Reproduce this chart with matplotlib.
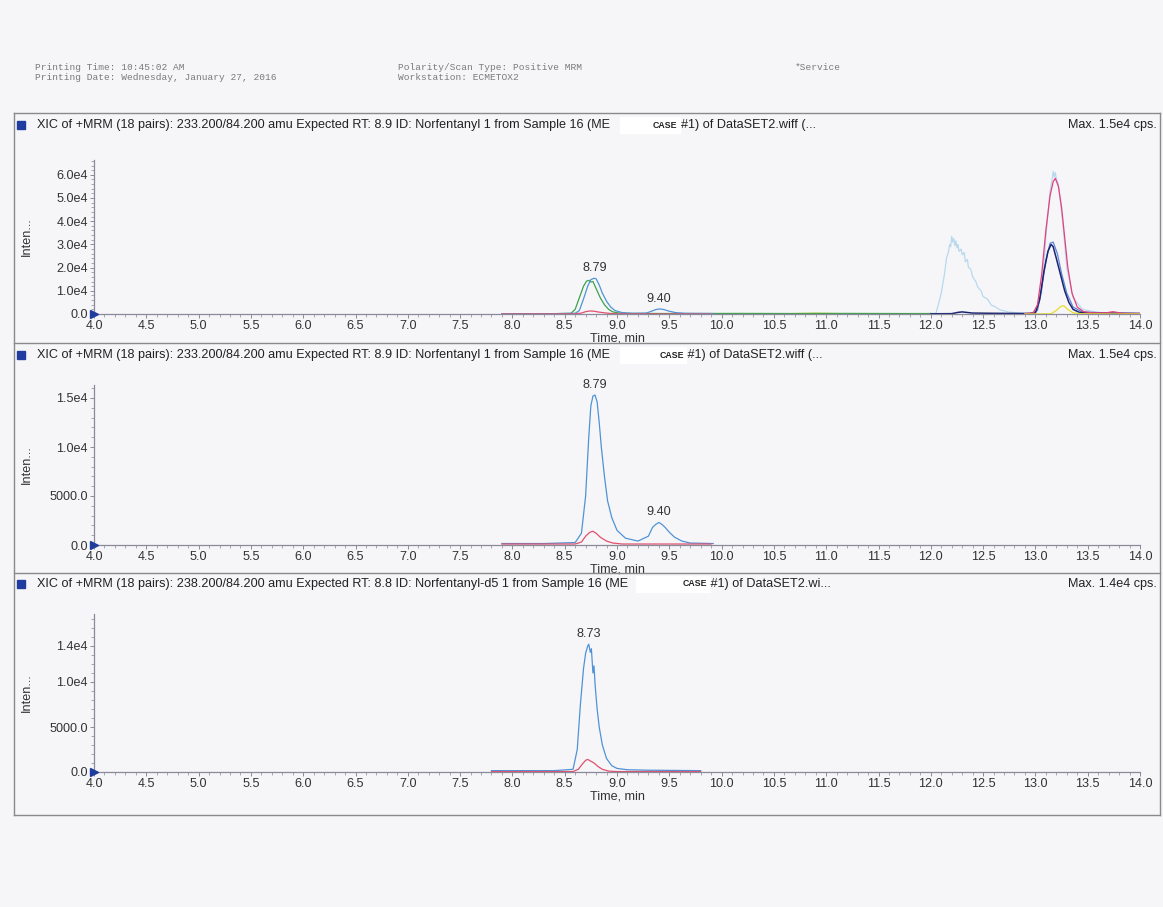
import matplotlib
matplotlib.use("Agg")
import matplotlib.pyplot as plt
from matplotlib.lines import Line2D
from matplotlib.patches import Rectangle
from matplotlib.ticker import MultipleLocator, FixedLocator

W, H = 1163, 907
BG = "#f6f6f8"

# ---------------- data ----------------
header_left = ["Printing Time: 10:45:02 AM", "Printing Date: Wednesday, January 27, 2016"]
header_mid = ["Polarity/Scan Type: Positive MRM", "Workstation: ECMETOX2"]
header_right = "*Service"

titles_a = [
    "XIC of +MRM (18 pairs): 233.200/84.200 amu Expected RT: 8.9 ID: Norfentanyl 1 from Sample 16 (ME",
    "XIC of +MRM (18 pairs): 233.200/84.200 amu Expected RT: 8.9 ID: Norfentanyl 1 from Sample 16 (ME",
    "XIC of +MRM (18 pairs): 238.200/84.200 amu Expected RT: 8.8 ID: Norfentanyl-d5 1 from Sample 16 (ME",
]
titles_b = ["#1) of DataSET2.wiff (...", " #1) of DataSET2.wiff (...", " #1) of DataSET2.wi..."]
max_labels = ["Max. 1.5e4 cps.", "Max. 1.5e4 cps.", "Max. 1.4e4 cps."]

x_ticks = [4.0, 4.5, 5.0, 5.5, 6.0, 6.5, 7.0, 7.5, 8.0, 8.5, 9.0, 9.5, 10.0, 10.5, 11.0, 11.5, 12.0, 12.5, 13.0, 13.5, 14.0]

p1_yticks = [0, 10000, 20000, 30000, 40000, 50000, 60000]
p1_ylabels = ["0.0", "1.0e4", "2.0e4", "3.0e4", "4.0e4", "5.0e4", "6.0e4"]
p2_yticks = [0, 5000, 10000, 15000]
p2_ylabels = ["0.0", "5000.0", "1.0e4", "1.5e4"]
p3_yticks = [0, 5000, 10000, 14000]
p3_ylabels = ["0.0", "5000.0", "1.0e4", "1.4e4"]

# Panel 1 traces
p1_blue_t = [7.90, 8.40, 8.60, 8.64, 8.68, 8.72, 8.75, 8.78, 8.80, 8.83, 8.86, 8.90, 8.94, 8.98, 9.05, 9.15, 9.28, 9.33, 9.37, 9.41, 9.45, 9.50, 9.56, 9.65, 9.92]
p1_blue_v = [150, 150, 300, 1500, 6500, 12000, 14800, 15400, 15200, 12500, 9000, 5500, 3000, 1500, 600, 300, 400, 1200, 1900, 2200, 1900, 1200, 600, 300, 200]
p1_green_t = [7.90, 8.40, 8.56, 8.60, 8.64, 8.68, 8.71, 8.73, 8.75, 8.77, 8.80, 8.84, 8.88, 8.92, 8.96, 9.02, 9.10, 9.60, 10.20, 10.70, 11.20, 11.70, 12.00]
p1_green_v = [150, 150, 300, 2000, 7000, 12000, 14200, 14500, 13800, 14000, 11000, 7000, 4000, 2000, 900, 400, 250, 200, 250, 200, 250, 200, 200]
p1_red_t = [7.90, 8.60, 8.66, 8.70, 8.74, 8.78, 8.83, 8.90, 8.96, 9.10, 9.90]
p1_red_v = [0, 50, 400, 1000, 1300, 1200, 800, 400, 150, 50, 0]
p1_ygreen_t = [10.60, 10.80, 10.90, 11.00, 11.20]
p1_ygreen_v = [100, 300, 400, 300, 100]
p1_pale_t = [11.90, 12.05, 12.10, 12.13, 12.15, 12.17, 12.18, 12.19, 12.20, 12.21, 12.22, 12.23, 12.24, 12.25, 12.26, 12.27, 12.29, 12.30, 12.32, 12.33, 12.35, 12.36, 12.38, 12.40, 12.43, 12.45, 12.48, 12.50, 12.54, 12.58, 12.62, 12.66, 12.75, 12.90, 13.00, 13.06, 13.10, 13.14, 13.16, 13.17, 13.18, 13.19, 13.20, 13.22, 13.26, 13.30, 13.36, 13.45, 13.60, 14.00]
p1_pale_v = [100, 300, 9000, 17000, 24000, 27000, 30000, 29000, 33500, 31000, 32500, 29500, 31500, 28500, 30000, 27000, 28000, 25500, 26500, 22500, 23500, 20000, 19500, 16000, 14000, 11500, 10000, 7500, 6500, 3800, 3000, 1800, 800, 300, 600, 9000, 33000, 53000, 58000, 61500, 59000, 61000, 58500, 56000, 40000, 20000, 7000, 2000, 600, 300]
p1_midblue_t = [12.95, 13.02, 13.06, 13.10, 13.14, 13.17, 13.21, 13.25, 13.30, 13.36, 13.45, 14.00]
p1_midblue_v = [200, 1500, 11000, 23000, 30500, 31000, 26000, 17500, 9000, 3000, 800, 200]
p1_navy_t = [12.00, 12.20, 12.26, 12.30, 12.34, 12.40, 12.60, 12.95, 13.00, 13.04, 13.08, 13.12, 13.15, 13.17, 13.20, 13.24, 13.28, 13.32, 13.36, 13.42, 13.55, 14.00]
p1_navy_v = [100, 150, 700, 900, 700, 400, 300, 200, 500, 6000, 18000, 27000, 30000, 29000, 24000, 17000, 10000, 5000, 2000, 700, 300, 200]
p1_pink_t = [12.90, 12.98, 13.02, 13.06, 13.10, 13.14, 13.17, 13.19, 13.22, 13.25, 13.28, 13.31, 13.35, 13.40, 13.46, 13.55, 13.68, 13.74, 13.78, 13.84, 14.00]
p1_pink_v = [200, 500, 4000, 17000, 36000, 51000, 57000, 58500, 55000, 46000, 33000, 20000, 9000, 3000, 1000, 500, 500, 1000, 700, 300, 200]
p1_yellow_t = [12.90, 13.15, 13.20, 13.24, 13.27, 13.31, 13.36, 13.45, 14.00]
p1_yellow_v = [0, 100, 1500, 3200, 3600, 2000, 500, 100, 0]

# Panel 2 traces
p2_blue_t = [7.90, 8.30, 8.60, 8.66, 8.70, 8.73, 8.75, 8.77, 8.79, 8.81, 8.83, 8.85, 8.88, 8.91, 8.95, 9.00, 9.08, 9.20, 9.30, 9.34, 9.37, 9.40, 9.43, 9.46, 9.50, 9.55, 9.62, 9.70, 9.92]
p2_blue_v = [150, 150, 250, 1200, 5000, 11000, 14200, 15200, 15300, 14600, 12500, 10000, 7000, 4500, 2800, 1500, 700, 400, 900, 1800, 2100, 2300, 2100, 1800, 1300, 800, 400, 200, 150]
p2_red_t = [7.90, 8.60, 8.66, 8.70, 8.74, 8.77, 8.80, 8.84, 8.90, 8.96, 9.05, 9.90]
p2_red_v = [100, 100, 300, 900, 1300, 1400, 1200, 800, 400, 200, 100, 100]

# Panel 3 traces
p3_blue_t = [7.80, 8.40, 8.58, 8.62, 8.65, 8.68, 8.70, 8.72, 8.73, 8.745, 8.755, 8.77, 8.78, 8.79, 8.81, 8.83, 8.86, 8.90, 8.95, 9.00, 9.10, 9.30, 9.80]
p3_blue_v = [150, 150, 300, 2500, 7500, 11500, 13200, 14000, 14200, 13300, 13700, 11000, 11800, 9800, 7000, 5000, 3000, 1500, 700, 400, 250, 200, 150]
p3_red_t = [7.80, 8.58, 8.63, 8.67, 8.70, 8.72, 8.75, 8.78, 8.82, 8.86, 8.92, 9.00, 9.80]
p3_red_v = [50, 50, 300, 900, 1300, 1400, 1200, 1000, 600, 300, 100, 50, 50]

# peak labels: (panel, time, intensity, text)
peak_labels = [
    (0, 8.79, 15400, "8.79"), (0, 9.40, 2200, "9.40"),
    (1, 8.79, 15300, "8.79"), (1, 9.40, 2300, "9.40"),
    (2, 8.73, 14200, "8.73"),
]

# ---------------- style ----------------
C_BLUE = "#4f93d6"
C_RED = "#e0506e"
C_GREEN = "#3ea24a"
C_PALE = "#b9d8ee"
C_MID = "#5a86d8"
C_NAVY = "#1c2470"
C_PINK = "#e3407c"
C_YEL = "#e8dc2a"
C_YGREEN = "#c9da4a"

fig = plt.figure(figsize=(W / 100, H / 100), dpi=100, facecolor=BG)

def fx(px):
    return px / W

def fy(py):
    return 1 - py / H

mono = ["Liberation Mono", "DejaVu Sans Mono"]
sans = ["Liberation Sans", "DejaVu Sans"]
FS = 9.1

# header
hkw = dict(family=mono, fontsize=6.8, color="#7a7a7a", va="center")
fig.text(fx(35), fy(67), header_left[0], **hkw)
fig.text(fx(35), fy(78), header_left[1], **hkw)
fig.text(fx(398), fy(67), header_mid[0], **hkw)
fig.text(fx(398), fy(78), header_mid[1], **hkw)
fig.text(fx(795), fy(67), header_right, **hkw)

# frame
frame_col = "#8a8a8a"
top, bot, left, right = 113, 815, 14, 1160
for (x0, y0, x1, y1) in [(left, top, right, top), (left, bot, right, bot), (left, top, left, bot), (right, top, right, bot),
                         (left, 343, right, 343), (left, 573, right, 573)]:
    fig.add_artist(Line2D([fx(x0), fx(x1)], [fy(y0), fy(y1)], color=frame_col, lw=1.0, transform=fig.transFigure))

title_y = [125, 355, 584]
box_x = [[620, 680], [620, 686], [636, 710]]
case_x = [653, 660, 683]
b_x = [681, 684, 707]
zero_px = [314, 545, 772]
top_px = [160, 385, 614]
px_per_unit = [23.2 / 10000, 98.0 / 10000, 90.0 / 10000]

yticks_all = [p1_yticks, p2_yticks, p3_yticks]
ylabels_all = [p1_ylabels, p2_ylabels, p3_ylabels]
yminor = [2000, 1000, 1000]

axes = []
for i in range(3):
    ty = title_y[i]
    fig.add_artist(Rectangle((fx(17), fy(ty + 4)), 8 / W, 8 / H, color="#1f3c9e", transform=fig.transFigure))
    fig.text(fx(37), fy(ty), titles_a[i], family=sans, fontsize=FS, color="#222222", va="center")
    bx0, bx1 = box_x[i]
    fig.add_artist(Rectangle((fx(bx0), fy(ty + 8)), (bx1 - bx0) / W, 16 / H, color="white", transform=fig.transFigure))
    fig.text(fx(case_x[i]), fy(ty), "CASE", family=sans, fontsize=6.3, weight="bold", color="#222222", va="center")
    fig.text(fx(b_x[i]), fy(ty), titles_b[i], family=sans, fontsize=FS, color="#222222", va="center")
    fig.text(fx(1157), fy(ty), max_labels[i], family=sans, fontsize=FS, color="#222222", va="center", ha="right")

    z, t = zero_px[i], top_px[i]
    ax = fig.add_axes([fx(94), fy(z), (1140 - 94) / W, (z - t) / H])
    ax.set_facecolor("none")
    ax.set_xlim(4.0, 14.0)
    ax.set_ylim(0, (z - t) / px_per_unit[i])
    for s in ["top", "right"]:
        ax.spines[s].set_visible(False)
    for s in ["left", "bottom"]:
        ax.spines[s].set_color("#8a8a9a")
        ax.spines[s].set_linewidth(0.9)
    ax.xaxis.set_major_locator(FixedLocator(x_ticks))
    ax.set_xticklabels([f"{v:.1f}" for v in x_ticks])
    ax.xaxis.set_minor_locator(MultipleLocator(0.1))
    ax.yaxis.set_major_locator(FixedLocator(yticks_all[i]))
    ax.set_yticklabels(ylabels_all[i])
    ax.yaxis.set_minor_locator(MultipleLocator(yminor[i]))
    ax.tick_params(axis="both", which="major", length=3, width=0.7, color="#8a8a9a", labelsize=FS,
                   labelcolor="#333333", pad=1.5)
    ax.tick_params(axis="both", which="minor", length=2, width=0.6, color="#9a9aaa")
    for lab in ax.get_xticklabels() + ax.get_yticklabels():
        lab.set_family(sans)
    ax.set_xlabel("Time, min", family=sans, fontsize=FS, color="#333333", labelpad=0)
    ax.set_ylabel("Inten...", family=sans, fontsize=FS, color="#333333")
    ax.yaxis.set_label_coords(-0.058, 0.5)
    ax.plot([4.0], [0], marker=">", color="#1f3c9e", markersize=6, clip_on=False, zorder=5)
    axes.append(ax)

ax1, ax2, ax3 = axes
lw = 0.9
ax1.plot(p1_pale_t, p1_pale_v, color=C_PALE, lw=lw)
ax1.plot(p1_ygreen_t, p1_ygreen_v, color=C_YGREEN, lw=lw)
ax1.plot(p1_green_t, p1_green_v, color=C_GREEN, lw=lw)
ax1.plot(p1_blue_t, p1_blue_v, color=C_BLUE, lw=lw)
ax1.plot(p1_red_t, p1_red_v, color=C_RED, lw=lw)
ax1.plot(p1_midblue_t, p1_midblue_v, color=C_MID, lw=lw)
ax1.plot(p1_navy_t, p1_navy_v, color=C_NAVY, lw=1.1)
ax1.plot(p1_pink_t, p1_pink_v, color=C_PINK, lw=lw)
ax1.plot(p1_yellow_t, p1_yellow_v, color=C_YEL, lw=lw)

ax2.plot(p2_blue_t, p2_blue_v, color=C_BLUE, lw=lw)
ax2.plot(p2_red_t, p2_red_v, color=C_RED, lw=lw)

ax3.plot(p3_blue_t, p3_blue_v, color=C_BLUE, lw=lw)
ax3.plot(p3_red_t, p3_red_v, color=C_RED, lw=lw)

for (pi, t, v, txt) in peak_labels:
    axes[pi].annotate(txt, (t, v), xytext=(0, 3), textcoords="offset points", ha="center", va="bottom",
                      family=sans, fontsize=FS, color="#333333")

fig.savefig("out.png", dpi=100, facecolor=BG)
